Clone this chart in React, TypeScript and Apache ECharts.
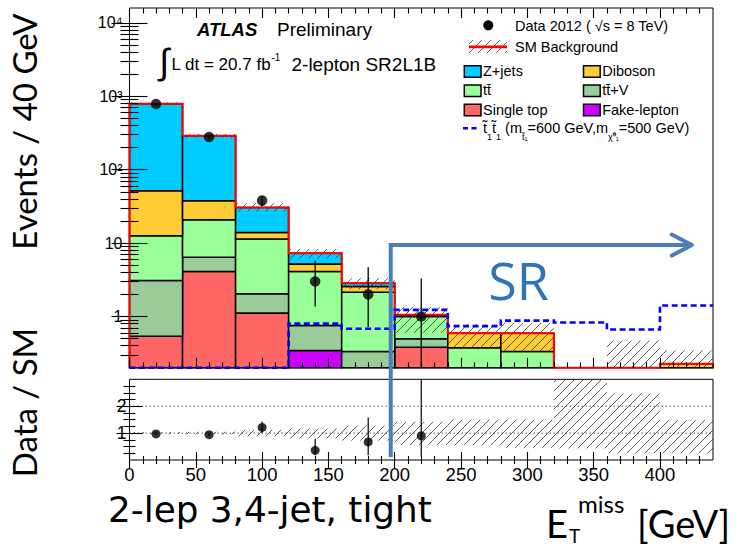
import { useEffect, useRef } from "react";
import * as echarts from "echarts";

// ---------------- data ----------------
const binLowEdges = [0, 40, 80, 120, 160, 200, 240, 280, 320, 360, 400];
const binWidth = 40;

// stacked backgrounds, bottom -> top (events per bin)
const singleTop = [0.54, 4.1, 1.12, 0, 0, 0.38, 0, 0, 0, 0, 0];
const fakeLepton = [0, 0, 0, 0.344, 0, 0, 0, 0, 0, 0, 0];
const ttbarV = [2.55, 2.3, 0.92, 0.41, 0.334, 0.117, 0, 0, 0, 0, 0];
const ttbar = [9.5, 14.5, 9.36, 3.35, 1.81, 0.5, 0.375, 0.334, 0, 0, 0];
const diboson = [39.2, 17.0, 2.6, 1.1, 0.42, 0.02, 0.215, 0.256, 0, 0, 0.227];
const zJets = [740, 252, 16.7, 2.07, 0.28, 0.04, 0, 0, 0, 0, 0];

// SM background uncertainty band (main panel)
const bkgUncLow = [755, 272, 27, 6.2, 2.35, 0.6, 0.36, 0.34, 0, 0, 0];
const bkgUncHigh = [830, 308, 35, 8.3, 3.32, 1.34, 0.78, 0.82, 0, 0.47, 0.345];

// signal stop (600,500)
const signalStop = [0.05, 0.08, 0.12, 0.8, 0.68, 1.23, 0.74, 0.88, 0.83, 0.665, 1.41];

// data
const dataCounts = [785, 280, 38, 3, 2, 1, 0, 0, 0, 0, 0];
const dataErrLow = [757, 263, 32, 1.37, 0.72, 0.17, 0, 0, 0, 0, 0];
const dataErrHigh = [813, 297, 44, 5.8, 4.7, 3.3, 0, 0, 0, 0, 0];

// ratio panel
const ratioValues = [0.97, 0.94, 1.21, 0.36, 0.67, 0.9];
const ratioErrLow = [0.93, 0.89, 1.0, 0.18, 0.18, 0.12];
const ratioErrHigh = [1.01, 0.99, 1.43, 0.79, 1.58, 3.0];
const ratioBandLow = [0.96, 0.95, 0.88, 0.8, 0.72, 0.56, 0.55, 0.45, 0.43, 0.25, 0.25];
const ratioBandHigh = [1.04, 1.05, 1.12, 1.17, 1.28, 1.42, 1.5, 1.5, 3.0, 2.47, 1.48];

// tick labels
const xTickLabels = [0, 50, 100, 150, 200, 250, 300, 350, 400];
const yDecades = [1, 10, 100, 1000, 10000];
const yDecadeLabels = ["1", "10", "10²", "10³", "10⁴"];
const ratioTickLabels = [1, 2];

// signal-region annotation (data units)
const srEdge = 197;
const srArrowLevel = 9.4;
const srArrowEnd = 424;
const srLineBottom = 0.11;

// ---------------- styling / layout ----------------
const Y_MIN = 0.2;
const Y_MAX = 16000;
const X_MAX = 440;
const R_MAX = 3;

const ROOT_FONT = "'Liberation Sans', Arial, sans-serif";
const SLIDE_FONT = "Lato, 'Open Sans', sans-serif";
const HATCH = { stroke: "#333", lineWidth: 0.8 };
const SR_BLUE = "#4A7EBB";

const components = [
  { name: "Single top", values: singleTop, color: "#FF6666" },
  { name: "Fake-lepton", values: fakeLepton, color: "#CC00FF" },
  { name: "tt̄+V", values: ttbarV, color: "#99CC99" },
  { name: "tt̄", values: ttbar, color: "#99FF99" },
  { name: "Diboson", values: diboson, color: "#FFCC33" },
  { name: "Z+jets", values: zJets, color: "#00CCFF" },
];

const totals = binLowEdges.map((_, i) =>
  components.reduce((s, c) => s + c.values[i], 0)
);

function hatchLines(x0: number, y0: number, x1: number, y1: number, step = 9) {
  const out: any[] = [];
  const kStart = Math.ceil((x0 + y0) / step) * step;
  for (let k = kStart; k <= x1 + y1; k += step) {
    const xa = Math.max(x0, k - y1);
    const xb = Math.min(x1, k - y0);
    if (xb - xa > 0.5) {
      out.push({
        type: "line",
        shape: { x1: xa, y1: k - xa, x2: xb, y2: k - xb },
        style: { ...HATCH },
      });
    }
  }
  return out;
}

function stackData(ci: number) {
  const rows: number[][] = [];
  binLowEdges.forEach((edge, i) => {
    let lo = 0;
    for (let k = 0; k < ci; k++) lo += components[k].values[i];
    const v = components[ci].values[i];
    if (v > 0) rows.push([edge, edge + binWidth, lo, lo + v]);
  });
  return rows;
}

function range(a: number, b: number, s: number) {
  const r: number[] = [];
  for (let v = a; v <= b + 1e-9; v += s) r.push(Math.round(v * 1000) / 1000);
  return r;
}

const xMajor = range(0, 400, 50);
const xMinor = range(10, 430, 10).filter((v) => v % 50 !== 0);
const logMinor: number[] = [];
for (let k = -1; k <= 4; k++) {
  for (let d = 2; d <= 9; d++) {
    const v = d * Math.pow(10, k);
    if (v > Y_MIN * 1.001 && v < Y_MAX) logMinor.push(v);
  }
}
const rMajor = [1, 2];
const rMinor = range(0.25, 2.75, 0.25).filter((v) => Math.abs(v - Math.round(v)) > 1e-6);

function stepPolyline(api: any, values: number[], lo: number) {
  const pts: number[][] = [api.coord([binLowEdges[0], lo])];
  values.forEach((t, i) => {
    const y = Math.max(t, lo);
    pts.push(api.coord([binLowEdges[i], y]));
    pts.push(api.coord([binLowEdges[i] + binWidth, y]));
  });
  return pts;
}

function logLabel(v: number) {
  const idx = yDecades.findIndex((d) => Math.abs(Math.log10(v) - Math.log10(d)) < 1e-6);
  return idx >= 0 ? yDecadeLabels[idx] : "";
}

// axis-range definitions
const X_RANGE = { type: "value", min: 0, max: X_MAX, interval: 50 };
const LOG_RANGE = { type: "log", logBase: 10, min: Y_MIN, max: Y_MAX };
const RATIO_RANGE = { type: "value", min: 0, max: R_MAX, interval: 1 };

// an axis that only carries inward ROOT-style ticks
function tickAxis(gridIndex: number, position: string, base: any, values: number[], length: number, extra: any = {}) {
  return {
    ...base,
    gridIndex,
    position,
    z: 10,
    axisLine: { show: false },
    splitLine: { show: false },
    axisLabel: { show: false },
    axisTick: { show: true, inside: true, length, customValues: values, lineStyle: { color: "#000", width: 1.1 } },
    ...extra,
  };
}

function buildOption(): any {
  const series: any[] = [];

  // stacked backgrounds
  components.forEach((c, ci) => {
    series.push({
      type: "custom",
      name: c.name,
      xAxisIndex: 0,
      yAxisIndex: 0,
      z: 2,
      silent: true,
      encode: { x: 0, y: 3 },
      data: stackData(ci),
      renderItem: (_p: any, api: any) => {
        const x0 = api.value(0);
        const x1 = api.value(1);
        const lo = api.value(2);
        const hi = api.value(3);
        const pLo = api.coord([x0, Math.max(lo, Y_MIN)]);
        const pHi = api.coord([x1, Math.min(hi, Y_MAX)]);
        return {
          type: "rect",
          shape: { x: pLo[0], y: pHi[1], width: pHi[0] - pLo[0], height: pLo[1] - pHi[1] },
          style: { fill: c.color, stroke: "#000", lineWidth: 1.5 },
        };
      },
    });
  });

  // main uncertainty hatch
  series.push({
    type: "custom",
    xAxisIndex: 0,
    yAxisIndex: 0,
    z: 3,
    silent: true,
    encode: { x: 0, y: 3 },
    data: binLowEdges
      .map((e, i) => [e, e + binWidth, bkgUncLow[i], bkgUncHigh[i]])
      .filter((r) => r[3] > Y_MIN),
    renderItem: (_p: any, api: any) => {
      const a = api.coord([api.value(0), Math.max(api.value(2), Y_MIN)]);
      const b = api.coord([api.value(1), Math.min(api.value(3), Y_MAX)]);
      return { type: "group", children: hatchLines(a[0], b[1], b[0], a[1]) };
    },
  });

  // SM total outline (red)
  series.push({
    type: "custom",
    xAxisIndex: 0,
    yAxisIndex: 0,
    z: 4,
    silent: true,
    encode: { x: 0, y: 1 },
    data: [[220, 1]],
    renderItem: (_p: any, api: any) => ({
      type: "polyline",
      shape: { points: stepPolyline(api, totals, Y_MIN) },
      style: { stroke: "#FF0000", lineWidth: 2, fill: "none" },
    }),
  });

  // signal dashed
  series.push({
    type: "custom",
    xAxisIndex: 0,
    yAxisIndex: 0,
    z: 5,
    silent: true,
    encode: { x: 0, y: 1 },
    data: [[220, 1]],
    renderItem: (_p: any, api: any) => ({
      type: "polyline",
      shape: { points: stepPolyline(api, signalStop, Y_MIN) },
      style: { stroke: "#0000FF", lineWidth: 2.6, fill: "none", lineDash: [6, 3.5] },
    }),
  });

  // data error bars
  series.push({
    type: "custom",
    xAxisIndex: 0,
    yAxisIndex: 0,
    z: 6,
    silent: true,
    encode: { x: 0, y: 2 },
    data: binLowEdges
      .map((e, i) => [e + binWidth / 2, dataErrLow[i], dataErrHigh[i], dataCounts[i]])
      .filter((r) => r[3] > 0),
    renderItem: (_p: any, api: any) => {
      const x = api.value(0);
      const a = api.coord([x, Math.max(api.value(1), Y_MIN)]);
      const b = api.coord([x, Math.min(api.value(2), Y_MAX)]);
      return {
        type: "line",
        shape: { x1: a[0], y1: a[1], x2: b[0], y2: b[1] },
        style: { stroke: "#000", lineWidth: 1.3 },
      };
    },
  });

  // data points
  series.push({
    type: "scatter",
    xAxisIndex: 0,
    yAxisIndex: 0,
    z: 7,
    silent: true,
    symbol: "circle",
    symbolSize: 10.5,
    itemStyle: { color: "#000" },
    data: binLowEdges
      .map((e, i) => [e + binWidth / 2, dataCounts[i]])
      .filter((r) => r[1] > 0),
  });

  // ratio: dotted reference lines
  series.push({
    type: "custom",
    xAxisIndex: 1,
    yAxisIndex: 1,
    z: 2,
    silent: true,
    encode: { x: 0, y: 1 },
    data: ratioTickLabels.map((v) => [0, v]),
    renderItem: (_p: any, api: any) => {
      const a = api.coord([0, api.value(1)]);
      const b = api.coord([X_MAX, api.value(1)]);
      return {
        type: "line",
        shape: { x1: a[0], y1: a[1], x2: b[0], y2: b[1] },
        style: { stroke: "#444", lineWidth: 0.9, lineDash: [1.5, 2.5] },
      };
    },
  });

  // ratio: uncertainty hatch
  series.push({
    type: "custom",
    xAxisIndex: 1,
    yAxisIndex: 1,
    z: 3,
    silent: true,
    encode: { x: 0, y: 3 },
    data: binLowEdges.map((e, i) => [e, e + binWidth, ratioBandLow[i], ratioBandHigh[i]]),
    renderItem: (_p: any, api: any) => {
      const a = api.coord([api.value(0), Math.max(api.value(2), 0)]);
      const b = api.coord([api.value(1), Math.min(api.value(3), R_MAX)]);
      return { type: "group", children: hatchLines(a[0], b[1], b[0], a[1]) };
    },
  });

  // ratio error bars
  series.push({
    type: "custom",
    xAxisIndex: 1,
    yAxisIndex: 1,
    z: 6,
    silent: true,
    encode: { x: 0, y: 2 },
    data: ratioValues.map((_, i) => [binLowEdges[i] + binWidth / 2, ratioErrLow[i], ratioErrHigh[i]]),
    renderItem: (_p: any, api: any) => {
      const x = api.value(0);
      const a = api.coord([x, Math.max(api.value(1), 0)]);
      const b = api.coord([x, Math.min(api.value(2), R_MAX)]);
      return {
        type: "line",
        shape: { x1: a[0], y1: a[1], x2: b[0], y2: b[1] },
        style: { stroke: "#000", lineWidth: 1.2 },
      };
    },
  });

  // ratio points
  series.push({
    type: "scatter",
    xAxisIndex: 1,
    yAxisIndex: 1,
    z: 7,
    silent: true,
    symbol: "circle",
    symbolSize: 9,
    itemStyle: { color: "#000" },
    data: ratioValues.map((v, i) => [binLowEdges[i] + binWidth / 2, v]),
  });

  const baseGrid = { show: true, borderColor: "#000", borderWidth: 1, backgroundColor: "transparent", containLabel: false, outerBoundsMode: "none" };

  const xAxis = [
    // 0: main bottom (major ticks)
    tickAxis(0, "bottom", X_RANGE, xMajor, 10),
    // 1: ratio bottom, labelled (major ticks)
    tickAxis(1, "bottom", X_RANGE, xMajor, 8, {
      axisLabel: {
        show: true, fontSize: 18.5, fontFamily: ROOT_FONT, color: "#000", margin: 5, showMaxLabel: false,
        formatter: (v: number) => (xTickLabels.indexOf(v) >= 0 ? String(v) : ""),
      },
    }),
    tickAxis(0, "bottom", X_RANGE, xMinor, 5.5),
    tickAxis(0, "top", X_RANGE, xMajor, 10),
    tickAxis(0, "top", X_RANGE, xMinor, 5.5),
    tickAxis(1, "bottom", X_RANGE, xMinor, 4),
    tickAxis(1, "top", X_RANGE, xMajor, 8),
    tickAxis(1, "top", X_RANGE, xMinor, 4),
  ];
  const yAxis = [
    // 0: main left, labelled (decade ticks)
    tickAxis(0, "left", LOG_RANGE, yDecades, 18, {
      axisLabel: { show: true, fontSize: 16, fontFamily: ROOT_FONT, color: "#000", margin: 7, formatter: logLabel },
    }),
    // 1: ratio left, labelled
    tickAxis(1, "left", RATIO_RANGE, rMajor, 13, {
      axisLabel: {
        show: true, fontSize: 17.5, fontFamily: ROOT_FONT, color: "#000", margin: 3,
        formatter: (v: number) => (ratioTickLabels.indexOf(v) >= 0 ? String(v) : ""),
      },
    }),
    tickAxis(0, "left", LOG_RANGE, logMinor, 9),
    tickAxis(0, "right", LOG_RANGE, yDecades, 18),
    tickAxis(0, "right", LOG_RANGE, logMinor, 9),
    tickAxis(1, "left", RATIO_RANGE, rMinor, 6),
    tickAxis(1, "right", RATIO_RANGE, rMajor, 13),
    tickAxis(1, "right", RATIO_RANGE, rMinor, 6),
  ];

  return {
    animation: false,
    backgroundColor: "#fff",
    grid: [
      { ...baseGrid, left: 129.5, top: 8, width: 583.5, height: 359.8 },
      { ...baseGrid, left: 129.5, top: 379.3, width: 583.5, height: 80.7 },
    ],
    xAxis,
    yAxis,
    series,
  };
}

function txt(x: number, y: number, text: string, extra: any = {}, el: any = {}) {
  return {
    type: "text",
    x,
    y,
    silent: true,
    z: 20,
    ...el,
    style: { text, fill: "#000", fontFamily: ROOT_FONT, fontSize: 14.5, align: "left", verticalAlign: "middle", ...extra },
  };
}

function buildGraphic(chart: any): any[] {
  const g: any[] = [];

  // ATLAS label
  g.push(txt(197, 29.6, "ATLAS", { fontSize: 18.5, fontWeight: "bold", fontStyle: "italic" }));
  g.push(txt(277, 29.4, "Preliminary", { fontSize: 19 }));
  g.push(txt(159.5, 61, "∫", { fontSize: 36 }));
  g.push(txt(171.5, 64.3, "L dt = 20.7 fb", { fontSize: 17 }));
  g.push(txt(271.5, 57.5, "-1", { fontSize: 10 }));
  g.push(txt(291.5, 64.3, "2-lepton SR2L1B", { fontSize: 19 }));

  // legend
  g.push({ type: "circle", silent: true, z: 20, shape: { cx: 488.3, cy: 25.3, r: 5 }, style: { fill: "#000" } });
  g.push(txt(515, 25.7, "Data 2012 ( √s = 8 TeV)"));
  hatchLines(469, 40, 507, 53).forEach((l) => g.push({ ...l, silent: true, z: 20 }));
  g.push({ type: "line", silent: true, z: 21, shape: { x1: 469, y1: 46.8, x2: 507, y2: 46.8 }, style: { stroke: "#FF0000", lineWidth: 2.7 } });
  g.push(txt(515, 47.3, "SM Background"));

  const legendRows = [
    ["Z+jets", "Diboson"],
    ["tt̄", "tt̄+V"],
    ["Single top", "Fake-lepton"],
  ];
  const rowTop = [65.7, 85, 104.3];
  const colX = [464.3, 583.5];
  legendRows.forEach((row, r) => {
    row.forEach((name, c) => {
      const comp = components.find((k) => k.name === name)!;
      g.push({
        type: "rect", silent: true, z: 20,
        shape: { x: colX[c], y: rowTop[r], width: 16.7, height: 11.5 },
        style: { fill: comp.color, stroke: "#000", lineWidth: 1.5 },
      });
      g.push(txt(colX[c] + 18.7, rowTop[r] + 5.3, name));
    });
  });
  g.push({
    type: "line", silent: true, z: 20,
    shape: { x1: 463, y1: 128.3, x2: 479, y2: 128.3 },
    style: { stroke: "#0000FF", lineWidth: 2.6, lineDash: [5, 3.5] },
  });
  g.push(
    txt(483, 127.7, "t̃{s|1}t̃{s|1} (m{s|t̃₁}=600 GeV,m{s|χ̃⁰₁}=500 GeV)", {
      lineHeight: 28,
      rich: { s: { fontSize: 9, lineHeight: 9, verticalAlign: "bottom", fontFamily: ROOT_FONT, fill: "#000" } },
    })
  );

  // signal region annotation
  const pTop = chart.convertToPixel({ gridIndex: 0 }, [srEdge, srArrowLevel]);
  const pEnd = chart.convertToPixel({ gridIndex: 0 }, [srArrowEnd, srArrowLevel]);
  const pBot = chart.convertToPixel({ gridIndex: 1 }, [srEdge, srLineBottom]);
  const blue = { stroke: SR_BLUE, lineWidth: 4 };
  g.push({ type: "line", silent: true, z: 30, shape: { x1: pTop[0], y1: pTop[1] - 2, x2: pBot[0], y2: pBot[1] }, style: { ...blue } });
  g.push({ type: "line", silent: true, z: 30, shape: { x1: pTop[0], y1: pTop[1], x2: pEnd[0], y2: pEnd[1] }, style: { ...blue } });
  g.push({
    type: "polyline", silent: true, z: 30,
    shape: { points: [[pEnd[0] - 20, pEnd[1] - 10.5], [pEnd[0], pEnd[1]], [pEnd[0] - 20, pEnd[1] + 10.5]] },
    style: { ...blue, fill: "none", lineCap: "round", lineJoin: "round" },
  });
  g.push(txt(518.5, 279.8, "SR", { fontSize: 52, fontFamily: "'Open Sans', sans-serif", fill: "#2F75B6", align: "center" }));

  // slide texts
  g.push(txt(24.2, 131.5, "Events / 40 GeV", { fontSize: 33, fontFamily: SLIDE_FONT, align: "center" }, { rotation: Math.PI / 2 }));
  g.push(txt(24.2, 402.5, "Data / SM", { fontSize: 33, fontFamily: SLIDE_FONT, align: "center" }, { rotation: Math.PI / 2 }));
  g.push(txt(108, 509.6, "2-lep 3,4-jet, tight", { fontSize: 35.8, fontFamily: "'DejaVu Sans', sans-serif" }));
  g.push(txt(546, 523.3, "E", { fontSize: 38, fontFamily: SLIDE_FONT }));
  g.push(txt(569, 535.5, "T", { fontSize: 19, fontFamily: SLIDE_FONT }));
  g.push(txt(578, 503, "miss", { fontSize: 24, fontFamily: SLIDE_FONT }));
  g.push(txt(637, 523.3, "[GeV]", { fontSize: 38, fontFamily: SLIDE_FONT }));

  return g;
}

export default function App() {
  const ref = useRef<HTMLDivElement>(null);
  useEffect(() => {
    const chart = echarts.init(ref.current!, null, { renderer: "svg" });
    chart.setOption(buildOption());
    chart.setOption({ graphic: buildGraphic(chart) });
    return () => chart.dispose();
  }, []);
  return (
    <div
      ref={ref}
      style={{ position: "fixed", left: 0, top: 0, width: 738, height: 546, background: "#fff" }}
    />
  );
}
